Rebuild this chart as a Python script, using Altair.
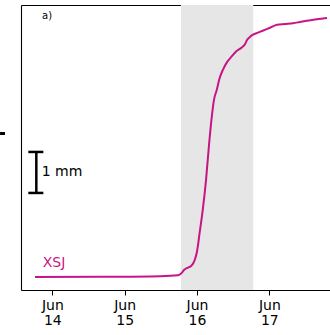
import altair as alt
import pandas as pd

# Displacement series (mm)
times = [
    "2021-06-13T18:15", "2021-06-14T15:50", "2021-06-15T11:45", "2021-06-15T17:43",
    "2021-06-15T18:56", "2021-06-15T19:41", "2021-06-15T21:01", "2021-06-15T22:02",
    "2021-06-15T22:48", "2021-06-15T23:21", "2021-06-15T23:54", "2021-06-16T00:20",
    "2021-06-16T00:46", "2021-06-16T01:54", "2021-06-16T03:00", "2021-06-16T03:59",
    "2021-06-16T04:52", "2021-06-16T05:38", "2021-06-16T06:33", "2021-06-16T07:28",
    "2021-06-16T08:38", "2021-06-16T09:58", "2021-06-16T11:31", "2021-06-16T12:58",
    "2021-06-16T14:51", "2021-06-16T15:56", "2021-06-16T16:36", "2021-06-16T17:37",
    "2021-06-16T18:36", "2021-06-16T20:15", "2021-06-16T21:35", "2021-06-17T00:14",
    "2021-06-17T02:34", "2021-06-17T05:12", "2021-06-17T07:52", "2021-06-17T10:12",
    "2021-06-17T12:29", "2021-06-17T15:10", "2021-06-17T17:11", "2021-06-17T19:09",
]
values_mm = [
    0.00, 0.005, 0.02, 0.04,
    0.10, 0.17, 0.23, 0.27,
    0.34, 0.44, 0.585, 0.78,
    1.02, 1.63, 2.37, 3.22,
    3.88, 4.32, 4.56, 4.84,
    5.06, 5.24, 5.38, 5.50,
    5.60, 5.68, 5.78, 5.86,
    5.91, 5.96, 6.00, 6.08,
    6.15, 6.17, 6.19, 6.22,
    6.25, 6.28, 6.30, 6.32,
]

# Shaded period
shade_start = ["2021-06-15T18:40"]
shade_end = ["2021-06-16T18:40"]

# 1 mm scale bar
bar_time = ["2021-06-13T18:41"]
bar_low = [2.05]
bar_high = [3.05]
cap_start = ["2021-06-13T16:02", "2021-06-13T16:02"]
cap_end = ["2021-06-13T21:01", "2021-06-13T21:01"]
cap_level = [2.05, 3.05]

# stray mark at far left (from neighbouring panel)
stray_start = ["2021-06-13T06:39"]
stray_end = ["2021-06-13T08:18"]
stray_level = [3.50]

# annotations
labels = ["1 mm", "XSJ", "a)"]

tick_dates = [alt.DateTime(year=2021, month=6, date=d) for d in [14, 15, 16, 17]]

series = pd.DataFrame({"t": times, "v": values_mm})
shade = pd.DataFrame({"t0": shade_start, "t1": shade_end})
bar = pd.DataFrame({"t": bar_time, "lo": bar_low, "hi": bar_high})
caps = pd.DataFrame({"t0": cap_start, "t1": cap_end, "v": cap_level})
stray = pd.DataFrame({"t0": stray_start, "t1": stray_end, "v": stray_level})
one = pd.DataFrame({"k": [0]})

FONT = "DejaVu Sans"
COLOR = "#c71585"

xscale = alt.Scale(domain=[
    alt.DateTime(year=2021, month=6, date=13, hours=13, minutes=36),
    alt.DateTime(year=2021, month=6, date=17, hours=20, minutes=8),
])
yscale = alt.Scale(domain=[-0.317, 6.634], nice=False, zero=False)

xaxis = alt.Axis(
    values=tick_dates,
    labelExpr="[timeFormat(datum.value, '%b'), timeFormat(datum.value, '%d')]",
    labelFont=FONT, labelFontSize=14, labelColor="black", labelLineHeight=15,
    labelPadding=3, tickSize=5, tickColor="black", tickWidth=1,
    domainColor="black", domainWidth=1.1, grid=False, title=None,
)
yaxis = alt.Axis(labels=False, ticks=False, grid=False, title=None,
                 domainColor="black", domainWidth=1.1)

rect = alt.Chart(shade).mark_rect(color="#e6e6e6").encode(
    x=alt.X("t0:T", scale=xscale, axis=xaxis),
    x2="t1:T",
)

# top frame line via independent top axis
top = alt.Chart(shade).mark_rect(opacity=0).encode(
    x=alt.X("t0:T", scale=xscale,
            axis=alt.Axis(orient="top", labels=False, ticks=False, grid=False,
                          title=None, domainColor="black", domainWidth=1.1)),
    x2="t1:T",
)

line = alt.Chart(series).mark_line(color=COLOR, strokeWidth=2, interpolate="monotone").encode(
    x=alt.X("t:T", scale=xscale, axis=None),
    y=alt.Y("v:Q", scale=yscale, axis=yaxis),
)

vbar = alt.Chart(bar).mark_rule(color="black", strokeWidth=2.5).encode(
    x=alt.X("t:T", axis=None), y=alt.Y("lo:Q", scale=yscale), y2="hi:Q",
)
capr = alt.Chart(caps).mark_rule(color="black", strokeWidth=2.5).encode(
    x=alt.X("t0:T", axis=None), x2="t1:T", y=alt.Y("v:Q", scale=yscale),
)
strayr = alt.Chart(stray).mark_rule(color="black", strokeWidth=3).encode(
    x=alt.X("t0:T", axis=None), x2="t1:T", y=alt.Y("v:Q", scale=yscale),
)

txt_mm = alt.Chart(one).mark_text(
    text=labels[0], font=FONT, fontSize=14, align="left", baseline="middle", color="black"
).encode(x=alt.value(20.7), y=alt.value(167))
txt_xsj = alt.Chart(one).mark_text(
    text=labels[1], font=FONT, fontSize=14, align="left", baseline="middle", color=COLOR
).encode(x=alt.value(21.7), y=alt.value(257.5))
txt_a = alt.Chart(one).mark_text(
    text=labels[2], font=FONT, fontSize=10, align="left", baseline="middle", color="black"
).encode(x=alt.value(21), y=alt.value(11))

chart = alt.layer(
    rect, top, line, vbar, capr, strayr, txt_mm, txt_xsj, txt_a
).resolve_axis(x="independent").properties(
    width=309, height=285,
    autosize=alt.AutoSizeParams(type="none"),
    padding={"left": 21, "top": 5, "right": 0, "bottom": 45},
).configure_view(stroke=None).configure(background="white")

chart.save("out.html", embed_options={"renderer": "svg", "actions": False})
